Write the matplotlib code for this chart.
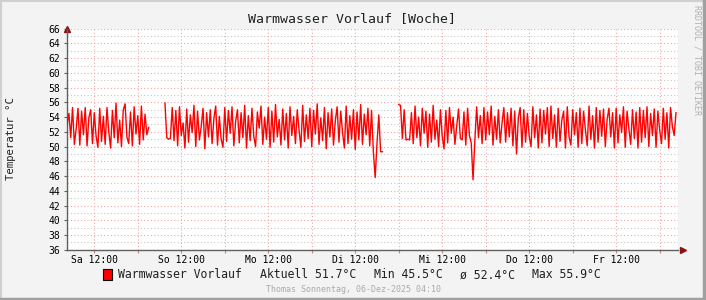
import numpy as np
import matplotlib
matplotlib.use("Agg")
import matplotlib.pyplot as plt
from matplotlib.lines import Line2D
from matplotlib.patches import Rectangle

nan = float("nan")

# RRD samples: hours since Saturday 00:00, one sample every 30 minutes
start_hour = 4.5
step_hours = 0.5
temps = [
    53.0, 54.5, 51.2, 55.3, 50.3, 52.4, 55.2, 50.2, 54.8, 51.6, 55.3, 50.1, 53.9, 55.0, 50.4, 54.6, 51.4, 49.9, 55.2, 50.7,
    54.1, 50.3, 55.3, 52.0, 49.8, 54.9, 51.2, 55.9, 50.5, 53.6, 50.0, 55.0, 55.8, 51.3, 50.4, 54.7, 50.1, 55.4, 51.7, 54.2,
    50.3, 55.5, 50.9, 54.4, 51.6, 52.6, nan, nan, nan, nan, nan, nan, nan, nan, 55.9, 51.2, 51.0, 51.1, 55.3, 50.8,
    54.9, 50.1, 55.4, 51.5, 53.2, 49.8, 55.1, 50.6, 54.3, 51.9, 55.6, 50.0, 54.8, 50.9, 52.7, 55.2, 49.7, 54.6, 51.3, 55.0,
    50.4, 53.8, 55.5, 50.2, 54.1, 51.0, 49.9, 55.3, 50.7, 54.9, 51.8, 55.4, 50.1, 53.4, 55.0, 50.5, 54.6, 51.2, 55.6, 49.8,
    54.2, 50.8, 55.2, 51.4, 50.0, 54.7, 52.5, 55.5, 50.3, 54.0, 51.0, 55.3, 49.9, 54.8, 50.6, 55.7, 51.3, 53.7, 50.2, 55.1,
    50.9, 54.5, 49.8, 55.4, 51.5, 54.1, 50.4, 55.0, 52.2, 49.9, 55.6, 50.7, 54.3, 51.1, 55.2, 50.0, 54.9, 51.7, 55.8, 50.3,
    53.9, 50.8, 55.3, 49.7, 54.6, 51.3, 55.1, 50.2, 53.5, 55.4, 50.6, 54.8, 51.9, 49.8, 55.5, 50.4, 54.2, 51.0, 55.0, 49.6,
    54.7, 50.9, 55.7, 50.3, 54.4, 51.6, 55.2, 50.1, 54.9, 49.3, 45.8, 50.4, 54.3, 49.3, 49.3, nan, nan, nan, nan, nan,
    nan, nan, nan, 55.7, 55.6, 51.1, 55.0, 50.9, 51.0, 50.9, 54.6, 50.4, 55.5, 51.2, 54.0, 50.1, 55.2, 51.8, 54.8, 49.9,
    54.4, 50.6, 55.6, 51.0, 53.6, 50.0, 55.0, 51.4, 49.7, 54.9, 50.5, 55.3, 51.8, 54.0, 50.3, 52.8, 55.1, 51.1, 50.9, 54.7,
    50.2, 55.2, 51.5, 50.5, 45.5, 50.8, 55.4, 51.2, 54.2, 50.4, 55.3, 50.9, 54.7, 51.6, 55.5, 50.2, 54.1, 51.0, 55.0, 50.5,
    53.2, 55.3, 50.6, 54.6, 51.3, 55.2, 50.1, 54.8, 49.0, 53.9, 55.3, 49.9, 55.0, 50.6, 54.5, 51.4, 50.0, 55.4, 51.2, 54.3,
    49.8, 55.1, 50.5, 54.9, 51.7, 55.3, 50.0, 55.5, 51.1, 54.3, 49.9, 55.2, 50.7, 53.6, 54.8, 49.8, 55.4, 51.3, 50.2, 55.0,
    51.6, 54.6, 49.9, 55.2, 50.4, 54.8, 52.3, 50.1, 55.5, 51.0, 54.2, 49.8, 55.3, 50.6, 54.9, 51.4, 55.1, 50.0, 53.7, 55.2,
    51.3, 54.6, 49.8, 55.2, 50.5, 54.3, 51.9, 55.4, 49.9, 54.8, 52.4, 50.3, 55.0, 51.1, 54.7, 49.8, 55.3, 50.6, 54.9, 51.2,
    55.4, 50.0, 54.5, 51.5, 55.1, 49.9, 54.8, 52.2, 50.4, 55.2, 51.0, 54.6, 49.8, 55.3, 52.7, 51.5, 54.6,
]
day_labels = ["Sa 12:00", "So 12:00", "Mo 12:00", "Di 12:00", "Mi 12:00", "Do 12:00", "Fr 12:00"]
label_hours = [12, 36, 60, 84, 108, 132, 156]
grid_hours = list(range(12, 169, 12))

series_name = "Warmwasser Vorlauf"
cur_val, min_val, avg_val, max_val = 51.7, 45.5, 52.4, 55.9

hours = start_hour + step_hours * np.arange(len(temps))
mono = "DejaVu Sans Mono"
W, H = 706, 300

fig = plt.figure(figsize=(W / 100, H / 100), dpi=100)
fig.patch.set_facecolor("#f3f3f3")
ax = fig.add_axes([67 / W, 1 - 249.7 / H, 610.7 / W, 221 / H])
ax.set_facecolor("white")

# grid
for y in range(37, 66, 2):
    ax.axhline(y, color="#c8c8c8", lw=0.8, ls=(0, (1, 2)), zorder=1)
for y in range(38, 67, 2):
    ax.axhline(y, color="#f0a8a8", lw=0.8, ls=(0, (1, 2)), zorder=1)
for x in grid_hours:
    ax.axvline(x, color="#f0a8a8", lw=0.8, ls=(0, (1, 2)), zorder=1)

ax.plot(hours, temps, color="#ff0000", lw=1.0, zorder=3)

ax.set_xlim(4.47, 172.97)
ax.set_ylim(36, 66)
ax.set_yticks(range(36, 67, 2))
ax.set_yticklabels([str(v) for v in range(36, 67, 2)], fontsize=7, family=mono)
lab = dict(zip(label_hours, day_labels))
ax.set_xticks(grid_hours)
ax.set_xticklabels([lab.get(h, "") for h in grid_hours], fontsize=7, family=mono)
ax.tick_params(axis="x", length=2.5, color="#d08080", width=0.8, pad=1)
ax.tick_params(axis="y", length=2, color="#606060", width=0.8, pad=3)

for side in ("top", "right"):
    ax.spines[side].set_visible(False)
for side in ("left", "bottom"):
    ax.spines[side].set_color("#606060")
    ax.spines[side].set_linewidth(1.0)

# axis arrows
ax.plot([0], [1.0], marker="^", ms=4, color="#8b1010", transform=ax.transAxes, clip_on=False)
ax.plot([1.008], [0], marker=">", ms=4, color="#8b1010", transform=ax.transAxes, clip_on=False)

fig.text(352 / W, 1 - 19 / H, "Warmwasser Vorlauf [Woche]", ha="center", va="center",
         fontsize=9.5, family=mono, color="#202020")
fig.text(11 / W, 1 - 139 / H, "Temperatur °C", rotation=90, ha="center", va="center",
         fontsize=7.7, family=mono, color="#202020")
fig.text(697 / W, 1 - 5 / H, "RRDTOOL / TOBI OETIKER", rotation=270, ha="center", va="top",
         fontsize=6, family=mono, color="#b0b0b0")

# legend
fig.patches.append(Rectangle((103 / W, 1 - 280 / H), 9 / W, 11 / H, transform=fig.transFigure,
                             facecolor="#ff0000", edgecolor="black", lw=0.8))
legend_parts = [
    (series_name, 118),
    (f"Aktuell {cur_val:.1f}°C", 260),
    (f"Min {min_val:.1f}°C", 374),
    (f"ø {avg_val:.1f}°C", 460),
    (f"Max {max_val:.1f}°C", 532),
]
for txt, px in legend_parts:
    fig.text(px / W, 1 - 275 / H, txt, ha="left", va="center", fontsize=8.3, family=mono,
             color="#202020")
fig.text(353 / W, 1 - 289 / H, "Thomas Sonnentag, 06-Dez-2025 04:10", ha="center", va="center",
         fontsize=6, family=mono, color="#aaaaaa")

# 3d frame around the canvas
fig.lines.append(Line2D([0, 1], [0.998, 0.998], transform=fig.transFigure, color="#d0d0d0", lw=1.5))
fig.lines.append(Line2D([0.001, 0.001], [0, 1], transform=fig.transFigure, color="#d0d0d0", lw=1.5))
fig.lines.append(Line2D([0, 1], [0.004, 0.004], transform=fig.transFigure, color="#a0a0a0", lw=2.5))
fig.lines.append(Line2D([0.997, 0.997], [0, 1], transform=fig.transFigure, color="#a0a0a0", lw=2.5))

fig.savefig("out.png", dpi=100, facecolor=fig.get_facecolor())
